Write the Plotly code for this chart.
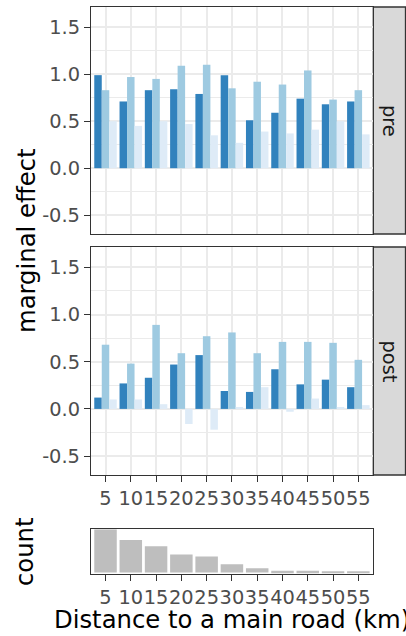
import plotly.graph_objects as go

# distance bins (km)
distance = [5, 10, 15, 20, 25, 30, 35, 40, 45, 50, 55]
tick_text = ["5", "10", "15", "20", "25", "30", "35", "40", "45", "50", "55"]

# marginal effects, three groups per bin, before and after
pre_dark = [0.99, 0.71, 0.83, 0.84, 0.79, 0.99, 0.51, 0.59, 0.74, 0.68, 0.71]
pre_mid = [0.83, 0.97, 0.95, 1.09, 1.10, 0.85, 0.92, 0.89, 1.04, 0.73, 0.83]
pre_light = [0.50, 0.45, 0.50, 0.47, 0.35, 0.27, 0.39, 0.37, 0.41, 0.50, 0.36]

post_dark = [0.12, 0.27, 0.33, 0.47, 0.57, 0.19, 0.18, 0.42, 0.26, 0.31, 0.23]
post_mid = [0.68, 0.48, 0.89, 0.59, 0.77, 0.81, 0.59, 0.71, 0.71, 0.70, 0.52]
post_light = [0.10, 0.10, 0.05, -0.16, -0.22, 0.01, 0.23, -0.03, 0.11, 0.02, 0.04]

# observations per distance bin
counts = [256, 192, 156, 106, 94, 48, 24, 10, 10, 2, 5]

facet_labels = ["pre", "post"]
blues = ["#3182bd", "#9ecae1", "#deebf7"]

FONT = "DejaVu Sans"
AXIS_SIZE = 19.4
TITLE_SIZE = 24.3
W, H = 406, 636
L, R, T, B = 91, 33, 7, 62
pw, ph = W - L - R, H - T - B


def py(px):
    return (H - B - px) / ph


def pxx(px):
    return (px - L) / pw


fig = go.Figure()

for ax, series in (("", (pre_dark, pre_mid, pre_light)), ("2", (post_dark, post_mid, post_light))):
    for vals, col in zip(series, blues):
        fig.add_trace(go.Bar(x=distance, y=vals, marker=dict(color=col, line=dict(width=0)),
                             xaxis="x" + ax, yaxis="y" + ax, showlegend=False))

fig.add_trace(go.Bar(x=distance, y=counts, marker=dict(color="#bebebe", line=dict(width=0)),
                     xaxis="x3", yaxis="y3", showlegend=False))

xr = [2.13, 57.9]
yr = [-0.70, 1.715]
tickfont = dict(family=FONT, size=AXIS_SIZE, color="#4d4d4d")
border = dict(showline=True, linecolor="#333333", linewidth=1.3, mirror=True)

xcommon = dict(range=xr, tickmode="array", tickvals=distance, ticktext=tick_text,
               tickangle=0,
               showgrid=True, gridcolor="#ebebeb", gridwidth=1.5, zeroline=False,
               tickfont=tickfont, ticks="outside", ticklen=6, tickwidth=1.3,
               tickcolor="#333333", **border)
ycommon = dict(range=yr, tickmode="array", tickvals=[-0.5, 0, 0.5, 1.0, 1.5],
               ticktext=["-0.5", "0.0", "0.5", "1.0", "1.5"],
               showgrid=True, gridcolor="#ebebeb", gridwidth=1.5, zeroline=False,
               minor=dict(tickmode="array", tickvals=[-0.25, 0.25, 0.75, 1.25],
                          showgrid=True, gridcolor="#ebebeb", gridwidth=0.9, ticks=""),
               tickfont=tickfont, ticks="outside", ticklen=6, tickwidth=1.3,
               tickcolor="#333333", **border)

top_dom = [py(234), 1.0]
mid_dom = [py(475), py(247)]
hist_dom = [0.0, py(529.3)]

fig.update_layout(
    width=W, height=H,
    margin=dict(l=L, r=R, t=T, b=B, pad=0),
    paper_bgcolor="white", plot_bgcolor="white",
    barmode="group", bargap=0.11, bargroupgap=0,
    xaxis=dict(xcommon, anchor="y", showticklabels=False, ticks=""),
    yaxis=dict(ycommon, domain=top_dom, anchor="x"),
    xaxis2=dict(xcommon, anchor="y2"),
    yaxis2=dict(ycommon, domain=mid_dom, anchor="x2"),
    xaxis3=dict(xcommon, anchor="y3", showgrid=False),
    yaxis3=dict(domain=hist_dom, anchor="x3", range=[-0.037 * max(counts), max(counts)],
                showgrid=False, zeroline=False, showticklabels=False, ticks="",
                **border),
    font=dict(family=FONT),
)

# facet strips on the right
for dom, lab in zip((top_dom, mid_dom), facet_labels):
    fig.add_shape(type="rect", xref="paper", yref="paper",
                  x0=pxx(373.3), x1=pxx(405.5), y0=dom[0], y1=dom[1],
                  fillcolor="#d9d9d9", line=dict(color="#333333", width=1.3), layer="below")
    fig.add_annotation(xref="paper", yref="paper", x=pxx(389.5), y=(dom[0] + dom[1]) / 2,
                       text=lab, textangle=90, showarrow=False,
                       font=dict(family=FONT, size=AXIS_SIZE, color="#1a1a1a"),
                       xanchor="center", yanchor="middle")

title_font = dict(family=FONT, size=TITLE_SIZE, color="black")
fig.add_annotation(xref="paper", yref="paper", x=pxx(26), y=py(241), text="marginal effect",
                   textangle=-90, showarrow=False, font=title_font,
                   xanchor="center", yanchor="middle")
fig.add_annotation(xref="paper", yref="paper", x=pxx(24), y=py(552), text="count",
                   textangle=-90, showarrow=False, font=title_font,
                   xanchor="center", yanchor="middle")
fig.add_annotation(xref="paper", yref="paper", x=0.5, y=py(619),
                   text="Distance to a main road (km)", showarrow=False, font=title_font,
                   xanchor="center", yanchor="middle")

fig.write_html("out.html")
